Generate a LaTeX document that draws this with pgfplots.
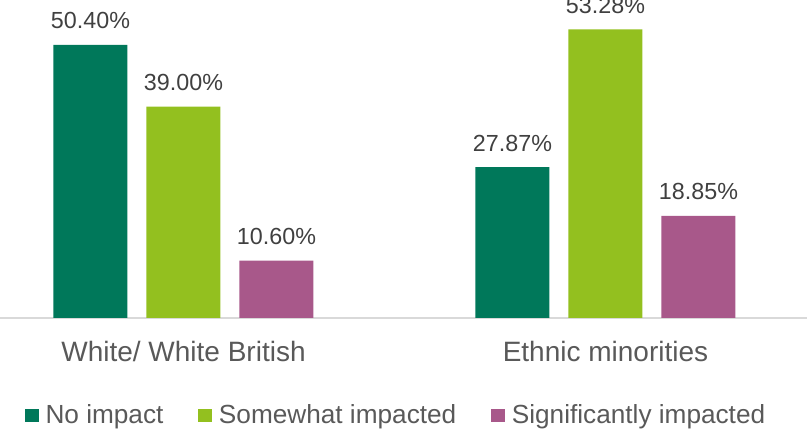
\documentclass[border=0pt]{standalone}
\usepackage{fontspec}
\setmainfont{Liberation Sans}
\usepackage{pgfplots}
\pgfplotsset{compat=1.18}
\definecolor{cA}{HTML}{00785A}
\definecolor{cB}{HTML}{93C01F}
\definecolor{cC}{HTML}{A8588A}
\definecolor{lab}{HTML}{404040}
\definecolor{cat}{HTML}{595959}
\definecolor{basecol}{HTML}{D9D9D9}
\begin{document}
\begin{tikzpicture}
\useasboundingbox (0,0) rectangle (807bp,-429bp);
\clip (0,0) rectangle (807bp,-429bp);
\begin{axis}[
 at={(0,0)}, anchor=north west,
 x=422bp, y=5.417bp,
 xmin=-0.4348, xmax=1.4775, ymin=0, ymax=58.70,
 ybar=19bp, bar width=74bp,
 axis x line*=bottom, axis y line=none,
 x axis line style={draw=basecol, line width=1.5bp, -},
 xtick={0,1}, xticklabels={White/ White British, Ethnic minorities},
 major tick length=0pt, tick style={draw=none},
 xticklabel style={font=\fontsize{28bp}{32bp}\selectfont, color=cat, anchor=base, yshift=-43.7bp, inner sep=0pt},
 clip=false,
 /pgf/number format/assume math mode=true,
 nodes near coords={\pgfmathprintnumber[fixed,zerofill,precision=2]{\pgfplotspointmeta}\%},
 every node near coord/.append style={font=\fontsize{23.3bp}{28bp}\selectfont, color=lab, anchor=base, yshift=16bp, inner sep=0pt},
 legend columns=-1,
 legend style={draw=none, fill=none, at={(0.031,-0.305)}, anchor=west, inner sep=0pt, outer sep=0pt, nodes={inner sep=0pt, anchor=base}, font=\fontsize{26.2bp}{30bp}\selectfont, text=cat, /tikz/every even column/.append style={column sep=35bp}},
 legend image code/.code={\fill[#1] (0bp,2.2bp) rectangle (13.5bp,15.2bp); \path (20.5bp,0bp);},
]
\addplot[fill=cA, draw=none] coordinates {(0,50.40) (1,27.87)};
\addplot[fill=cB, draw=none] coordinates {(0,39.00) (1,53.28)};
\addplot[fill=cC, draw=none] coordinates {(0,10.60) (1,18.85)};
\legend{No impact, Somewhat impacted, Significantly impacted}
\end{axis}
\end{tikzpicture}
\end{document}
